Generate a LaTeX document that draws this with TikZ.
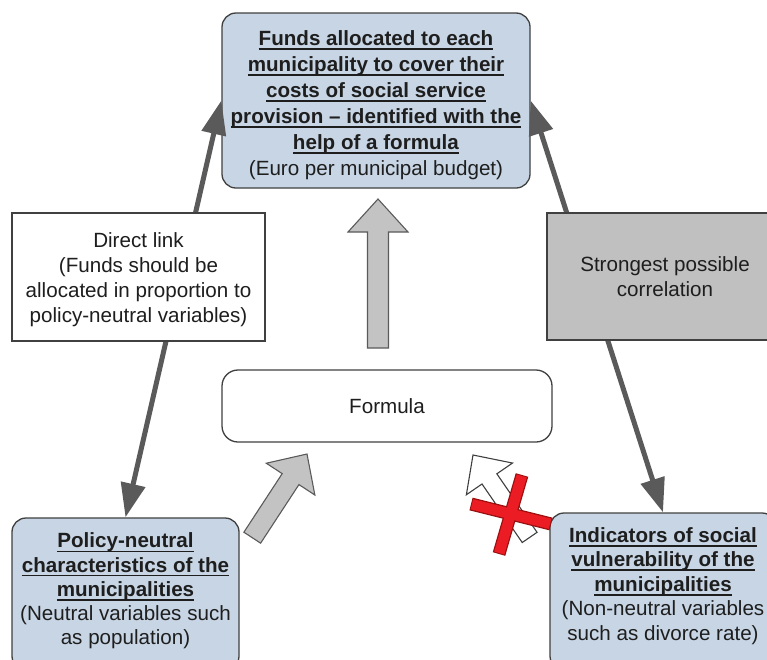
\documentclass[tikz,border=0pt]{standalone}
\usepackage{fontspec}
\setmainfont{Liberation Sans}
\usetikzlibrary{arrows.meta}
\definecolor{boxblue}{HTML}{C7D5E4}
\definecolor{boxgray}{HTML}{C0C0C0}
\definecolor{edge}{HTML}{404040}
\definecolor{arrgray}{HTML}{5A5A5A}
\definecolor{blockgray}{HTML}{C3C3C3}
\definecolor{xred}{HTML}{EC1C24}
\definecolor{xdark}{HTML}{9A1010}
\definecolor{txt}{HTML}{1E1E1E}
\newsavebox\ulbox
\newcommand\ulx[1]{\sbox\ulbox{#1}\rlap{\rule[-4.2pt]{\wd\ulbox}{1.6pt}}\usebox\ulbox}
\newcommand\blkarrow[8]{%
  % #1 tip, #2 angle, #3 length, #4 head length, #5 head half width, #6 shaft half width, #7 fill, #8 draw
  \begin{scope}[shift={(#1)}, rotate=#2]
    \filldraw[fill=#7, draw=#8, line width=1.1pt, line join=miter]
      (0,0) -- (-#4,#5) -- (-#4,#6) -- (-#3,#6) -- (-#3,-#6) -- (-#4,-#6) -- (-#4,-#5) -- cycle;
  \end{scope}}
\tikzset{
  box/.style={draw=edge, line width=1.3pt, inner sep=0pt},
  bluebox/.style={box, fill=boxblue, rounded corners=14pt},
  txtnode/.style={align=center, text=txt, inner sep=0pt},
  darr/.style={draw=arrgray, line width=5pt,
    {Triangle[length=34pt,width=24pt]}-{Triangle[length=34pt,width=24pt]}},
}
\begin{document}
\begin{tikzpicture}[x=1pt,y=-1pt]
\useasboundingbox (0,0) rectangle (767,659);
\clip (0,0) rectangle (767,659);
\fill[white] (0,0) rectangle (767,659);

% main boxes (shapes first, so arrows can attach)
\node[bluebox, minimum width=308pt, minimum height=175pt] (fund) at (376,100.5) {};
\node[bluebox, minimum width=227pt, minimum height=152pt] (pn) at (125.5,594) {};
\node[bluebox, minimum width=226pt, minimum height=157pt] (ind) at (663,591.5) {};

% dark connectors
\draw[darr] (pn.north) -- (fund.west);
\draw[darr] (ind.north) -- (fund.east);

% label boxes on the connectors
\node[box, fill=white, minimum width=253pt, minimum height=128pt] (direct) at (138.5,277) {};
\node[box, fill=boxgray, minimum width=236pt, minimum height=127pt] (strong) at (665,276.5) {};
\node[box, fill=white, rounded corners=16pt, minimum width=330pt, minimum height=72pt,
      txtnode, font=\fontsize{20.6}{25}\selectfont] (formula) at (387,406) {Formula};

% texts
\node[txtnode, font=\fontsize{20.6}{26}\selectfont] (fundtxt) at (376,105) {%
  \ulx{\textbf{Funds allocated to each}}\\
  \ulx{\textbf{municipality to cover their}}\\
  \ulx{\textbf{costs of social service}}\\
  \ulx{\textbf{provision \textendash{} identified with the}}\\
  \ulx{\textbf{help of a formula}}\\
  (Euro per municipal budget)};
\node[txtnode, font=\fontsize{20.6}{25}\selectfont] (directtxt) at (138.5,279.5) {%
  Direct link\\(Funds should be\\allocated in proportion to\\policy-neutral variables)};
\node[txtnode, font=\fontsize{20.6}{25}\selectfont] (strongtxt) at (665,277) {%
  Strongest possible\\correlation};
\node[txtnode, font=\fontsize{20.6}{24.2}\selectfont] (pntxt) at (125.5,591) {%
  \ulx{\textbf{Policy-neutral}}\\
  \ulx{\textbf{characteristics of the}}\\
  \ulx{\textbf{municipalities}}\\
  (Neutral variables such\\as population)};
\node[txtnode, font=\fontsize{20.6}{24.5}\selectfont] (indtxt) at (663,586) {%
  \ulx{\textbf{Indicators of social}}\\
  \ulx{\textbf{vulnerability of the}}\\
  \ulx{\textbf{municipalities}}\\
  (Non-neutral variables\\such as divorce rate)};

% block arrows
\blkarrow{378,199}{90}{149}{33}{30}{10.5}{blockgray}{arrgray}
\blkarrow{307,454}{56.8}{100}{30}{29}{10}{blockgray}{arrgray}
\blkarrow{473,455}{124.5}{100}{29}{28}{9}{white}{edge}

% red cross
\draw[xdark, line width=13pt, line cap=butt] (471,504) -- (551,524);
\draw[xdark, line width=13pt, line cap=butt] (522,475) -- (499,554);
\draw[xred, line width=10.5pt, line cap=butt, shorten <=1pt, shorten >=1pt] (471,504) -- (551,524);
\draw[xred, line width=10.5pt, line cap=butt, shorten <=1pt, shorten >=1pt] (522,475) -- (499,554);
\end{tikzpicture}
\end{document}
